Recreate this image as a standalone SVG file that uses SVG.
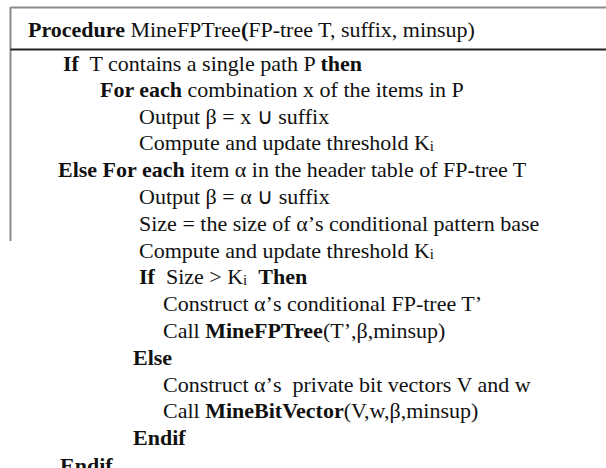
<svg xmlns="http://www.w3.org/2000/svg" width="606" height="468" viewBox="0 0 606 468">
<style>
text{font-family:"Liberation Serif","Times New Roman",serif;font-size:22px;fill:#111;white-space:pre}
.b{font-weight:bold}
.sub{font-size:15px}
</style>
<rect width="606" height="468" fill="#fff"/>
<g id="frame">
<line x1="10.5" y1="7.5" x2="606" y2="7.5" stroke="#8a8a8a" stroke-width="2"/>
<line x1="10.5" y1="7" x2="10.5" y2="241" stroke="#8a8a8a" stroke-width="2"/>
<line x1="10.5" y1="49.5" x2="606" y2="49.5" stroke="#222" stroke-width="2"/>
</g>
<g id="code">
<text x="28" y="37"><tspan class="b">Procedure</tspan> MineFPTree<tspan class="b">(</tspan>FP-tree T, suffix, minsup)</text>
<text x="63" y="70.5"><tspan class="b">If</tspan>  T contains a single path P <tspan class="b">then</tspan></text>
<text x="100" y="97"><tspan class="b">For each</tspan> combination x of the items in P</text>
<text x="139" y="123.6">Output β = x ∪ suffix</text>
<text x="139" y="150.4">Compute and update threshold K<tspan class="sub" dy="1">i</tspan></text>
<text x="58" y="177"><tspan class="b">Else For each</tspan> item α in the header table of FP-tree T</text>
<text x="139" y="204">Output β = α ∪ suffix</text>
<text x="139" y="230.8">Size = the size of α’s conditional pattern base</text>
<text x="139" y="257.6">Compute and update threshold K<tspan class="sub" dy="1">i</tspan></text>
<text x="139" y="284.4"><tspan class="b">If</tspan>  Size &gt; K<tspan class="sub" dy="1">i</tspan><tspan dy="-1">  </tspan><tspan class="b">Then</tspan></text>
<text x="163" y="311.2">Construct α’s conditional FP-tree T’</text>
<text x="163" y="338">Call <tspan class="b">MineFPTree</tspan>(T’,β,minsup)</text>
<text x="133" y="364.8" class="b">Else</text>
<text x="163" y="391.6">Construct α’s  private bit vectors V and w</text>
<text x="163" y="418.4">Call <tspan class="b">MineBitVector</tspan>(V,w,β,minsup)</text>
<text x="133" y="445.2" class="b">Endif</text>
<text x="60" y="473" class="b">Endif</text>
</g>
</svg>
